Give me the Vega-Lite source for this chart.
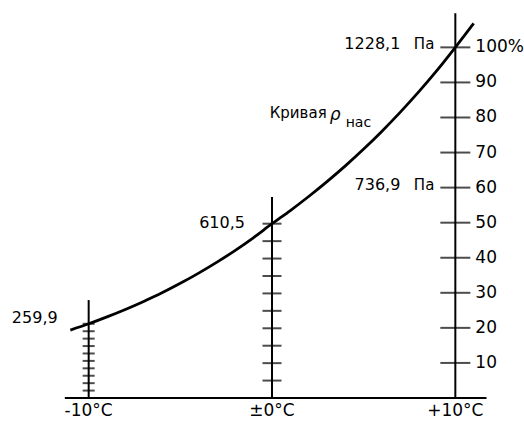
{
  "$schema": "https://vega.github.io/schema/vega-lite/v6.json",
  "width": 440,
  "height": 394,
  "autosize": "none",
  "padding": {"left": 52, "top": 4, "right": 32, "bottom": 32},
  "background": "white",
  "config": {"view": {"stroke": null}, "text": {"font": "DejaVu Sans", "color": "black"}},
  "datasets": {
    "curve": [
      {"t": -11, "p": 237.8}, {"t": -10, "p": 259.9}, {"t": -9, "p": 284.1}, {"t": -8, "p": 310.1},
      {"t": -7, "p": 338.3}, {"t": -6, "p": 368.5}, {"t": -5, "p": 401.7}, {"t": -4, "p": 437.5},
      {"t": -3, "p": 475.9}, {"t": -2, "p": 517.3}, {"t": -1, "p": 562.0}, {"t": 0, "p": 610.5},
      {"t": 1, "p": 656.7}, {"t": 2, "p": 705.8}, {"t": 3, "p": 757.9}, {"t": 4, "p": 813.0},
      {"t": 5, "p": 871.8}, {"t": 6, "p": 934.5}, {"t": 7, "p": 1001.2}, {"t": 8, "p": 1072.0},
      {"t": 9, "p": 1147.2}, {"t": 10, "p": 1228.1}, {"t": 11, "p": 1312.0}
    ],
    "bars": [
      {"t": -10, "p": 0, "top": 343},
      {"t": 0, "p": 0, "top": 704},
      {"t": 10, "p": 0, "top": 1348}
    ],
    "ticks": [
      {"t": -10, "rh": 10, "p": 25.99, "label": "10"}, {"t": -10, "rh": 20, "p": 51.98, "label": "20"},
      {"t": -10, "rh": 30, "p": 77.97, "label": "30"}, {"t": -10, "rh": 40, "p": 103.96, "label": "40"},
      {"t": -10, "rh": 50, "p": 129.95, "label": "50"}, {"t": -10, "rh": 60, "p": 155.94, "label": "60"},
      {"t": -10, "rh": 70, "p": 181.93, "label": "70"}, {"t": -10, "rh": 80, "p": 207.92, "label": "80"},
      {"t": -10, "rh": 90, "p": 233.91, "label": "90"}, {"t": -10, "rh": 100, "p": 259.9, "label": "100%"},
      {"t": 0, "rh": 10, "p": 61.05, "label": "10"}, {"t": 0, "rh": 20, "p": 122.1, "label": "20"},
      {"t": 0, "rh": 30, "p": 183.15, "label": "30"}, {"t": 0, "rh": 40, "p": 244.2, "label": "40"},
      {"t": 0, "rh": 50, "p": 305.25, "label": "50"}, {"t": 0, "rh": 60, "p": 366.3, "label": "60"},
      {"t": 0, "rh": 70, "p": 427.35, "label": "70"}, {"t": 0, "rh": 80, "p": 488.4, "label": "80"},
      {"t": 0, "rh": 90, "p": 549.45, "label": "90"}, {"t": 0, "rh": 100, "p": 610.5, "label": "100%"},
      {"t": 10, "rh": 10, "p": 122.81, "label": "10"}, {"t": 10, "rh": 20, "p": 245.62, "label": "20"},
      {"t": 10, "rh": 30, "p": 368.43, "label": "30"}, {"t": 10, "rh": 40, "p": 491.24, "label": "40"},
      {"t": 10, "rh": 50, "p": 614.05, "label": "50"}, {"t": 10, "rh": 60, "p": 736.9, "label": "60"},
      {"t": 10, "rh": 70, "p": 859.67, "label": "70"}, {"t": 10, "rh": 80, "p": 982.48, "label": "80"},
      {"t": 10, "rh": 90, "p": 1105.29, "label": "90"}, {"t": 10, "rh": 100, "p": 1228.1, "label": "100%"}
    ],
    "xlabels": [
      {"t": -10, "p": 0, "label": "-10°C"},
      {"t": 0, "p": 0, "label": "±0°C"},
      {"t": 10, "p": 0, "label": "+10°C"}
    ],
    "baseline": [
      {"t": -11.3, "p": 0},
      {"t": 11.7, "p": 0}
    ]
  },
  "encoding": {
    "x": {"field": "t", "type": "quantitative", "scale": {"domain": [-12, 12], "nice": false, "zero": false}, "axis": null},
    "y": {"field": "p", "type": "quantitative", "scale": {"domain": [0, 1380], "nice": false}, "axis": null}
  },
  "layer": [
    {
      "data": {"name": "baseline"},
      "mark": {"type": "line", "color": "black", "strokeWidth": 2},
      "encoding": {}
    },
    {
      "data": {"name": "bars"},
      "mark": {"type": "rule", "color": "black", "strokeWidth": 2},
      "encoding": {
        "y2": {"field": "top"}
      }
    },
    {
      "data": {"name": "ticks"},
      "transform": [{"filter": "datum.t == -10"}],
      "mark": {"type": "tick", "orient": "horizontal", "color": "black", "size": 12, "thickness": 2}
    },
    {
      "data": {"name": "ticks"},
      "transform": [{"filter": "datum.t == 0"}],
      "mark": {"type": "tick", "orient": "horizontal", "color": "black", "size": 19, "thickness": 2}
    },
    {
      "data": {"name": "ticks"},
      "transform": [{"filter": "datum.t == 10"}],
      "mark": {"type": "tick", "orient": "horizontal", "color": "black", "size": 30, "thickness": 2}
    },
    {
      "data": {"name": "curve"},
      "mark": {"type": "line", "color": "black", "strokeWidth": 2.8, "interpolate": "monotone"},
      "encoding": {}
    },
    {
      "data": {"name": "ticks"},
      "transform": [{"filter": "datum.t == 10"}],
      "mark": {"type": "text", "align": "left", "baseline": "middle", "dx": 20, "fontSize": 17},
      "encoding": {"text": {"field": "label"}}
    },
    {
      "data": {"name": "xlabels"},
      "mark": {"type": "text", "align": "center", "baseline": "middle", "dy": 13, "fontSize": 17},
      "encoding": {"text": {"field": "label"}}
    },
    {
      "data": {"values": [{"t": 10, "p": 1228.1, "label": "1228,1"}, {"t": 10, "p": 736.9, "label": "736,9"}]},
      "mark": {"type": "text", "align": "right", "baseline": "middle", "dx": -55, "dy": -3, "fontSize": 16},
      "encoding": {"text": {"field": "label"}}
    },
    {
      "data": {"values": [{"t": 10, "p": 1228.1, "label": "Па"}, {"t": 10, "p": 736.9, "label": "Па"}]},
      "mark": {"type": "text", "align": "right", "baseline": "middle", "dx": -21, "dy": -3, "fontSize": 15},
      "encoding": {"text": {"field": "label"}}
    },
    {
      "data": {"values": [{"t": 0, "p": 610.5, "label": "610,5"}]},
      "mark": {"type": "text", "align": "right", "baseline": "middle", "dx": -27, "dy": -1, "fontSize": 16},
      "encoding": {"text": {"field": "label"}}
    },
    {
      "data": {"values": [{"t": -10, "p": 259.9, "label": "259,9"}]},
      "mark": {"type": "text", "align": "right", "baseline": "middle", "dx": -31, "dy": -6, "fontSize": 16},
      "encoding": {"text": {"field": "label"}}
    },
    {
      "data": {"values": [{"t": 5, "p": 871.8, "label": "Кривая"}]},
      "mark": {"type": "text", "align": "right", "baseline": "middle", "dx": -37, "dy": -36, "fontSize": 15},
      "encoding": {"text": {"field": "label"}}
    },
    {
      "data": {"values": [{"t": 5, "p": 871.8, "label": "ρ"}]},
      "mark": {"type": "text", "align": "left", "baseline": "middle", "dx": -34, "dy": -34, "fontSize": 17, "fontStyle": "italic"},
      "encoding": {"text": {"field": "label"}}
    },
    {
      "data": {"values": [{"t": 5, "p": 871.8, "label": "нас"}]},
      "mark": {"type": "text", "align": "left", "baseline": "middle", "dx": -18, "dy": -26, "fontSize": 14},
      "encoding": {"text": {"field": "label"}}
    }
  ]
}
